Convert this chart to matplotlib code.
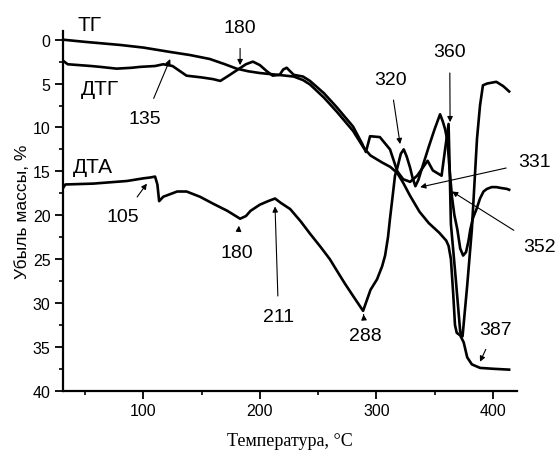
import matplotlib

matplotlib.use("Agg")
import matplotlib.pyplot as plt
from matplotlib.ticker import MultipleLocator

plt.rcParams["font.family"] = ["Liberation Sans", "DejaVu Sans"]

# ТГ (smooth mass-loss curve)
tg_t = [31, 50, 80, 100, 123, 140, 157, 170, 180, 190, 200, 215, 229, 237, 243, 255, 266,
        280, 289, 295, 305, 312, 318, 323, 329, 337, 345, 354, 360, 362, 364, 366, 367.5,
        369, 372, 375, 378, 382, 389, 400, 414]
tg_v = [0.0, 0.25, 0.6, 0.9, 1.4, 1.75, 2.2, 2.8, 3.3, 3.6, 3.8, 4.0, 4.2, 4.6, 5.1, 6.6, 8.2,
        10.4, 12.3, 13.2, 14.0, 14.5, 15.2, 16.3, 17.8, 19.6, 20.9, 22.0, 22.9, 23.5, 25.0, 29.0, 32.5,
        33.4, 33.7, 34.5, 36.2, 37.0, 37.4, 37.5, 37.6]

# ДТГ
dtg_t = [31, 35, 45, 55, 63, 77, 90, 97, 110, 117, 125, 137, 150, 160, 166, 172, 180, 188,
         194, 200, 206, 211, 217, 220, 223, 226, 229, 237, 243, 255, 266, 280, 288, 291,
         294.6, 303, 311.7, 318, 323, 329, 335, 344, 348.5, 356, 359, 362, 363, 364, 368,
         372, 374, 378, 382, 386.4, 389, 391.5, 395, 403, 409, 414]
dtg_v = [2.4, 2.8, 2.9, 3.0, 3.1, 3.3, 3.2, 3.1, 3.0, 2.8, 3.0, 4.1, 4.3, 4.5, 4.7, 4.2, 3.5, 2.8,
         2.5, 2.9, 3.6, 4.1, 4.0, 3.4, 3.2, 3.6, 4.0, 4.2, 4.7, 6.1, 7.7, 9.9, 11.9, 12.8,
         11.0, 11.1, 12.5, 15.0, 15.9, 16.2, 15.5, 13.8, 14.9, 15.5, 12.5, 9.6, 15.0, 21.0, 27.0,
         33.3, 33.8, 28.0, 21.6, 11.3, 7.5, 5.2, 5.0, 4.8, 5.3, 5.9]

# ДТА
dta_t = [31, 33, 57, 86, 100, 106, 110, 112, 113.5, 117, 129, 137, 148.6, 160, 172, 183, 188,
         192, 200, 207, 213, 218, 226, 235, 243, 252, 260, 266, 273, 281, 288.6, 291, 295,
         300.6, 305, 307.5, 310, 311.7, 314, 316, 318, 321, 323.5, 326, 329, 331, 333.5, 336,
         340, 345, 350, 354.7, 357, 359, 361, 363, 365, 367, 369.5, 372, 374.5, 377, 379,
         380.7, 383, 386, 389, 392, 395, 399, 403, 407, 412, 414]
dta_v = [16.9, 16.5, 16.4, 16.1, 15.8, 15.7, 15.6, 16.5, 18.4, 17.9, 17.3, 17.3, 17.9, 18.7, 19.5, 20.4, 20.1,
         19.5, 18.8, 18.4, 18.1, 18.6, 19.3, 20.7, 22.1, 23.6, 25.0, 26.3, 27.8, 29.4, 30.9, 30.0, 28.5,
         27.3, 25.8, 24.6, 22.5, 20.4, 17.8, 15.5, 14.6, 13.0, 12.5, 13.3, 14.6, 15.7, 16.7, 16.0,
         14.3, 12.2, 10.2, 8.5, 9.3, 10.2, 11.5, 15.0, 18.0, 20.0, 21.6, 23.8, 24.6, 24.2, 23.0,
         21.6, 20.3, 19.3, 18.1, 17.3, 17.0, 16.8, 16.8, 16.9, 17.0, 17.1]

# peak labels: text, text position, arrow target
peaks = [
    ("135", (101.5, 9.0), (123, 2.2)),
    ("180", (183, -1.4), (183, 2.9)),
    ("105", (82.6, 20.1), (103, 16.4)),
    ("180", (180.5, 24.2), (182, 21.2)),
    ("211", (216, 31.6), (213, 19.0)),
    ("288", (290.4, 33.7), (289, 31.3)),
    ("320", (312, 4.5), (320.4, 11.9)),
    ("360", (363, 1.4), (363.3, 9.4)),
    ("331", (436, 13.9), (337.6, 16.8)),
    ("352", (440.5, 23.6), (365, 17.3)),
    ("387", (402, 33.0), (389, 36.7)),
]

fig = plt.figure(figsize=(5.58, 4.52), dpi=100)
ax = fig.add_axes([0.113, 0.1334, 0.813, 0.796])

for t, v in [(tg_t, tg_v), (dtg_t, dtg_v), (dta_t, dta_v)]:
    ax.plot(t, v, color="black", lw=1.9, solid_joinstyle="round")

ax.set_xlim(31, 420.5)
ax.set_ylim(40, -1)
ax.xaxis.set_major_locator(MultipleLocator(100))
ax.xaxis.set_minor_locator(MultipleLocator(50))
ax.yaxis.set_major_locator(MultipleLocator(5))
ax.yaxis.set_minor_locator(MultipleLocator(2.5))
ax.tick_params(which="major", direction="out", length=6, width=1.3, labelsize=11.5, pad=3)
ax.tick_params(which="minor", direction="out", length=3, width=1.2)
for s in ("top", "right"):
    ax.spines[s].set_visible(False)
for s in ("left", "bottom"):
    ax.spines[s].set_linewidth(1.6)

ax.set_ylabel("Убыль массы, %", fontsize=12.5, labelpad=2)
ax.set_xlabel("Температура, °C", fontsize=13, family=["Liberation Serif", "DejaVu Serif"],
              labelpad=10)

ax.text(54, -1.7, "ТГ", fontsize=15, ha="center", va="center", clip_on=False)
ax.text(63, 5.6, "ДТГ", fontsize=15, ha="center", va="center")
ax.text(57, 14.4, "ДТА", fontsize=15, ha="center", va="center")

for label, xy_text, xy in peaks:
    ax.annotate(label, xy=xy, xytext=xy_text, fontsize=14, ha="center", va="center",
                annotation_clip=False,
                arrowprops=dict(arrowstyle="-|>", color="black", lw=0.8,
                                mutation_scale=8, shrinkA=7, shrinkB=0))

fig.savefig("out.png", dpi=100, facecolor="white")
